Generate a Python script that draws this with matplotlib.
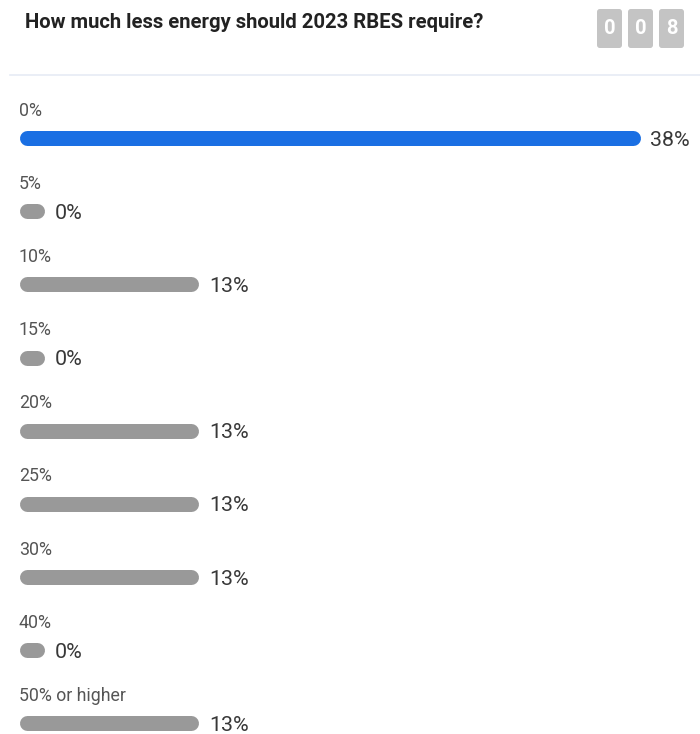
import matplotlib.pyplot as plt
from matplotlib.patches import FancyBboxPatch
from matplotlib.lines import Line2D

plt.rcParams['font.family'] = ['Roboto', 'DejaVu Sans']

# data
title = "How much less energy should 2023 RBES require?"
options = ["0%", "5%", "10%", "15%", "20%", "25%", "30%", "40%", "50% or higher"]
percents = [38, 0, 13, 0, 13, 13, 13, 0, 13]
counter = "008"

W, H = 700, 734
fig = plt.figure(figsize=(W / 100, H / 100), dpi=100)
fig.patch.set_facecolor('white')

# ------------------------------------------------------------
# header: title, counter boxes, separator
# ------------------------------------------------------------
fig.text(25 / W, 1 - 23 / H, title, fontsize=14.6, fontweight='bold',
         color='#222222', va='center', ha='left')

box_x = [597, 628, 659]
for bx, digit in zip(box_x, counter):
    fig.patches.append(FancyBboxPatch((bx / W, 1 - 48 / H), 25 / W, 39 / H,
                                      boxstyle="round,pad=0,rounding_size=0.004",
                                      transform=fig.transFigure,
                                      facecolor='#c4c4c4', edgecolor='none'))
    fig.text((bx + 12.5) / W, 1 - 29 / H, digit, fontsize=14.5, fontweight='bold',
             color='white', ha='center', va='center')

fig.lines.append(Line2D([10 / W, 1], [1 - 75 / H, 1 - 75 / H], transform=fig.transFigure,
                        color='#e6ebf5', lw=1.2))

# ------------------------------------------------------------
# bars (round caps -> axes inset by cap radius)
# ------------------------------------------------------------
cap = 7.5
x0_px, x1_px = 19 + cap, 640 - cap
ax = fig.add_axes([x0_px / W, 0, (x1_px - x0_px) / W, 1])
ax.set_axis_off()

lo = 3.65          # left end of the scale (widget stretches bars non-linearly)
ax.set_xlim(lo, max(percents))
row0, step = 138, 73.17
ax.set_ylim((H - row0) / step, -row0 / step)
min_len = 0.62     # min pill length

lw_pt = 15 * 72 / 100
for i, (opt, p) in enumerate(zip(options, percents)):
    color = '#1a6fe3' if p == max(percents) else '#999999'
    end = max(p, lo + min_len)
    ax.plot([lo, end], [i, i], color=color, lw=lw_pt, solid_capstyle='round', clip_on=False)
    ax.text(lo - cap / 17.64, i - 0.375, opt, fontsize=12.8, color='#555555',
            ha='left', va='center')
    ax.annotate(f"{p}%", (end, i), xytext=(17.5 * 0.72, -1.5), textcoords='offset points',
                fontsize=15.4, color='#383838', ha='left', va='center')

fig.savefig("out.png", dpi=100, facecolor='white')
